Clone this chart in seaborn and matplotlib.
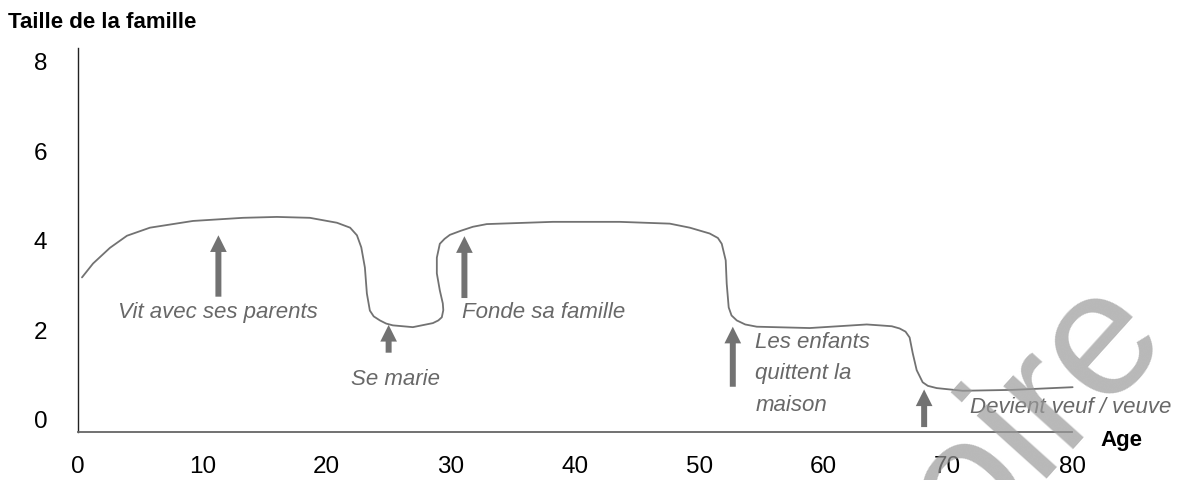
import matplotlib
matplotlib.use("Agg")
import matplotlib.pyplot as plt
import seaborn as sns
import pandas as pd

# ---- data ----
curve_age = [0.32, 1.21, 2.57, 3.94, 5.79, 9.25, 13.27, 16.01, 18.66, 20.84, 21.9, 22.45,
             22.8, 23.09, 23.25, 23.49, 23.8, 24.30, 24.8, 25.34, 26.95, 28.56, 29.0,
             29.28, 29.4, 29.36, 29.12, 28.88, 28.88, 29.12, 29.5, 29.93, 30.8, 31.78,
             32.90, 38.21, 43.60, 47.63, 49.24, 50.84, 51.5, 51.81, 52.13, 52.21, 52.37,
             52.6, 53.02, 53.7, 54.63, 58.89, 63.48, 64.52, 65.5, 66.13, 66.6, 66.93,
             67.18, 67.50, 67.98, 68.4, 69.11, 71.20, 75.22, 80.05]
curve_size = [3.18, 3.49, 3.84, 4.11, 4.29, 4.44, 4.51, 4.53, 4.51, 4.40, 4.29, 4.12,
              3.85, 3.40, 2.82, 2.44, 2.31, 2.22, 2.15, 2.11, 2.07, 2.16, 2.22,
              2.29, 2.45, 2.60, 2.89, 3.27, 3.62, 3.93, 4.04, 4.13, 4.22, 4.31,
              4.37, 4.42, 4.42, 4.38, 4.29, 4.16, 4.06, 3.93, 3.56, 3.04, 2.51,
              2.33, 2.22, 2.13, 2.08, 2.05, 2.13, 2.11, 2.09, 2.04, 1.97, 1.84,
              1.49, 1.11, 0.84, 0.76, 0.71, 0.65, 0.67, 0.73]

event_labels = ["Vit avec ses parents", "Se marie", "Fonde sa famille",
                "Les enfants\nquittent la\nmaison", "Devient veuf / veuve"]
arrow_age = [11.3, 25.0, 31.1, 52.7, 68.1]
arrow_tip = [4.12, 2.12, 4.10, 2.08, 0.68]
arrow_base = [2.75, 1.50, 2.72, 0.74, -0.16]
label_age = [3.22, 22.0, 30.9, 54.5, 71.8]
label_y = [2.28, 0.78, 2.28, 1.96, 0.16]

x_ticks = [0, 10, 20, 30, 40, 50, 60, 70, 80]
y_ticks = [0, 2, 4, 6, 8]

# ---- style ----
sns.set_theme(style="white")
FONT = ["Liberation Sans", "DejaVu Sans"]
plt.rcParams["font.family"] = FONT

LINE_C = "#727272"
TEXT_C = "#686868"

fig = plt.figure(figsize=(11.8, 4.8), dpi=100)
ax = fig.add_axes([78 / 1180, 48 / 480, (1072 - 78) / 1180, (432 - 48) / 480])

df = pd.DataFrame({"age": curve_age, "size": curve_size})
sns.lineplot(data=df, x="age", y="size", sort=False, estimator=None,
             color=LINE_C, linewidth=1.3, ax=ax)
for ln in ax.get_lines():
    ln.set_solid_joinstyle("round")
    ln.set_clip_on(False)

ax.set_xlim(0, 80)
ax.set_ylim(-0.27, 8.3)
ax.set_xticks(x_ticks)
ax.set_yticks(y_ticks)
ax.set_xticklabels([str(v) for v in x_ticks])
ax.set_yticklabels([str(v) for v in y_ticks])
ax.tick_params(axis="both", length=0, labelsize=17.5, colors="black")
ax.tick_params(axis="y", pad=22)
ax.tick_params(axis="x", pad=17)
ax.set_xlabel("")
ax.set_ylabel("")

for s in ["top", "right"]:
    ax.spines[s].set_visible(False)
ax.spines["left"].set_color("#222222")
ax.spines["left"].set_linewidth(1.0)
ax.spines["bottom"].set_color("#666666")
ax.spines["bottom"].set_linewidth(1.3)

# arrows
for xa, tip, base in zip(arrow_age, arrow_tip, arrow_base):
    ax.annotate("", xy=(xa, tip), xytext=(xa, base),
                arrowprops=dict(width=4.3, headwidth=12, headlength=12,
                                color=LINE_C, shrink=0.0, linewidth=0),
                annotation_clip=False)

# event labels
for txt, xl, yl in zip(event_labels, label_age, label_y):
    ax.text(xl, yl, txt, ha="left", va="baseline" if "\n" not in txt else "top",
            fontsize=16, style="italic", color=TEXT_C, family=FONT,
            linespacing=1.65, clip_on=False)

# titles
fig.text(8 / 1180, 1 - 28 / 480, "Taille de la famille", ha="left", va="baseline",
         fontsize=16, fontweight="bold", color="black", family=FONT)
fig.text(1100 / 1180, 1 - 446 / 480, "Age", ha="left", va="baseline",
         fontsize=16, fontweight="bold", color="black", family=FONT)

# watermark
fig.text(1036 / 1180, 1 - 414 / 480, "oire", ha="center", va="center",
         rotation=48, rotation_mode="anchor", fontsize=128,
         color="#9a9a9a", alpha=0.7, family=FONT, zorder=10)

fig.savefig("out.png", dpi=100)
